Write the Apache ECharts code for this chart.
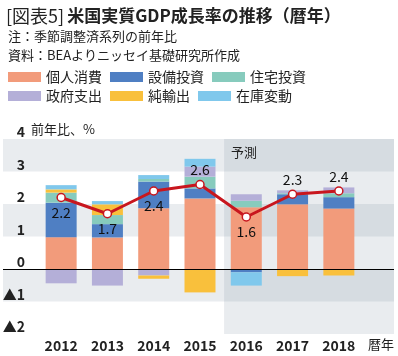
<!DOCTYPE html>
<html><head><meta charset="utf-8">
<script src="https://cdn.jsdelivr.net/npm/echarts@6/dist/echarts.min.js"></script>
<style>html,body{margin:0;padding:0;background:#fff}#c{width:398px;height:356px}</style>
</head><body><div id="c"></div>
<script>
const years = ['2012', '2013', '2014', '2015', '2016', '2017', '2018'];
const consumption = [0.98, 0.97, 1.87, 2.17, 1.90, 1.99, 1.86];
const equipment   = [1.06, 0.41, 0.82, 0.31, -0.10, 0.31, 0.35];
const residential = [0.31, 0.28, 0.08, 0.36, 0.20, 0.03, 0.12];
const government  = [-0.44, -0.51, -0.20, 0.31, 0.20, 0.09, 0.18];
const netExports  = [0.10, 0.33, -0.10, -0.72, 0, -0.22, -0.20];
const inventories = [0.13, 0.10, 0.12, 0.24, -0.41, 0, 0];
const gdp = [2.2, 1.7, 2.4, 2.6, 1.6, 2.3, 2.4];
const seriesNames = ['個人消費', '設備投資', '住宅投資', '政府支出', '純輸出', '在庫変動'];
const forecastFrom = 3.52; // category index where forecast shading starts (between 2015 and 2016)

const colors = ['#f29b7b', '#4f7fc3', '#87cbbd', '#b4afd8', '#f9c03c', '#80c8ec'];
const labelBelow = [true, true, true, false, true, false, false];
const FONT = '"Noto Sans CJK JP", "Noto Sans", sans-serif';
// background axis spans the full plot width in category-index units
const XMIN = -1.252, XMAX = 7.187;

const stacks = [consumption, equipment, residential, government, netExports, inventories];
const barSeries = stacks.map((arr, i) => ({
  name: seriesNames[i], type: 'bar', stack: 'total', barWidth: 31,
  xAxisIndex: 1, yAxisIndex: 1,
  itemStyle: { color: colors[i] },
  data: arr,
  z: 3
}));

const bandGrey = '#e9ecef', fcLight = '#e9ecef', fcDark = '#d6dce1';
const bgSeries = {
  name: 'bg', type: 'line', xAxisIndex: 0, yAxisIndex: 0, data: [], silent: true,
  markArea: {
    silent: true,
    data: [
      [{ yAxis: 3, itemStyle: { color: bandGrey } }, { yAxis: 4 }],
      [{ yAxis: 1, itemStyle: { color: bandGrey } }, { yAxis: 2 }],
      [{ yAxis: -1, itemStyle: { color: bandGrey } }, { yAxis: 0 }],
      [{ xAxis: forecastFrom, yAxis: -2, itemStyle: { color: fcLight },
         label: { show: true, formatter: '予測', position: 'insideTopLeft', distance: 7,
                  color: '#222', fontSize: 13, fontFamily: FONT } },
       { xAxis: XMAX, yAxis: 4 }],
      [{ xAxis: forecastFrom, yAxis: 3, itemStyle: { color: fcDark } }, { xAxis: XMAX, yAxis: 4 }],
      [{ xAxis: forecastFrom, yAxis: 1, itemStyle: { color: fcDark } }, { xAxis: XMAX, yAxis: 2 }],
      [{ xAxis: forecastFrom, yAxis: -1, itemStyle: { color: fcDark } }, { xAxis: XMAX, yAxis: 0 }]
    ]
  },
  markLine: {
    silent: true, symbol: 'none', label: { show: false },
    lineStyle: { color: '#000', width: 1, type: 'solid' },
    data: [{ yAxis: 0 }]
  }
};

const lineSeries = {
  name: '実質GDP', type: 'line', z: 5, xAxisIndex: 1, yAxisIndex: 1,
  data: gdp.map((v, k) => ({
    value: v,
    label: { position: labelBelow[k] ? 'bottom' : 'top' }
  })),
  lineStyle: { color: '#c8161e', width: 3 },
  symbol: 'circle', symbolSize: 8,
  itemStyle: { color: '#fff', borderColor: '#c8161e', borderWidth: 1.5 },
  label: { show: true, fontSize: 14, color: '#111', fontFamily: FONT, distance: 3,
           formatter: p => p.value.toFixed(1) }
};

const legendCommon = {
  left: 3, icon: 'rect', itemWidth: 33, itemHeight: 10, itemGap: 8,
  textStyle: { fontSize: 14, color: '#222', fontFamily: FONT, width: 58 },
  selectedMode: false
};

const chart = echarts.init(document.getElementById('c'));
chart.setOption({
  animation: false,
  textStyle: { fontFamily: FONT },
  title: [
    { left: 1, top: 2, text: '{a|[図表5]}{b|米国実質GDP成長率の推移（暦年）}',
      textStyle: { rich: {
        a: { fontSize: 18, fontWeight: 'normal', color: '#222', fontFamily: FONT, padding: [0, 3, 0, 0] },
        b: { fontSize: 17, fontWeight: 'bold', color: '#222', fontFamily: FONT } } } },
    { left: 3, top: 25, text: '注：季節調整済系列の前年比',
      textStyle: { fontSize: 13, fontWeight: 'normal', color: '#222', fontFamily: FONT } },
    { left: 3, top: 44, text: '資料：BEAよりニッセイ基礎研究所作成',
      textStyle: { fontSize: 13, fontWeight: 'normal', color: '#222', fontFamily: FONT } }
  ],
  legend: [
    Object.assign({ top: 65, data: seriesNames.slice(0, 3) }, legendCommon),
    Object.assign({ top: 84, data: seriesNames.slice(3, 6) }, legendCommon)
  ],
  grid: [
    { left: 3, right: 4, top: 139, bottom: 22, containLabel: false, outerBoundsMode: 'none' },
    { left: 38, right: 36, top: 139, bottom: 22, containLabel: false, outerBoundsMode: 'none' }
  ],
  xAxis: [
    { gridIndex: 0, type: 'value', min: XMIN, max: XMAX, show: false },
    { gridIndex: 1, type: 'category', data: years,
      axisLine: { show: false }, axisTick: { show: false }, splitLine: { show: false },
      axisLabel: { fontSize: 14, fontWeight: 'bold', color: '#222', margin: 5, fontFamily: FONT, interval: 0 } }
  ],
  yAxis: [
    { gridIndex: 0, type: 'value', min: -2, max: 4, interval: 1, z: 10,
      splitLine: { show: false }, axisLine: { show: false }, axisTick: { show: false },
      axisLabel: { margin: -22, align: 'right', verticalAlign: 'bottom', fontSize: 14,
                   fontWeight: 'bold', color: '#222', fontFamily: FONT,
                   formatter: v => v < 0 ? '▲' + (-v) : String(v) } },
    { gridIndex: 1, type: 'value', min: -2, max: 4, interval: 1, show: false }
  ],
  graphic: [
    { type: 'text', left: 31, top: 123,
      style: { text: '前年比、%', fill: '#222', font: '13px ' + FONT } },
    { type: 'text', right: 4, top: 338,
      style: { text: '暦年', fill: '#222', font: '13px ' + FONT } }
  ],
  series: [bgSeries].concat(barSeries, [lineSeries])
});
</script></body></html>
